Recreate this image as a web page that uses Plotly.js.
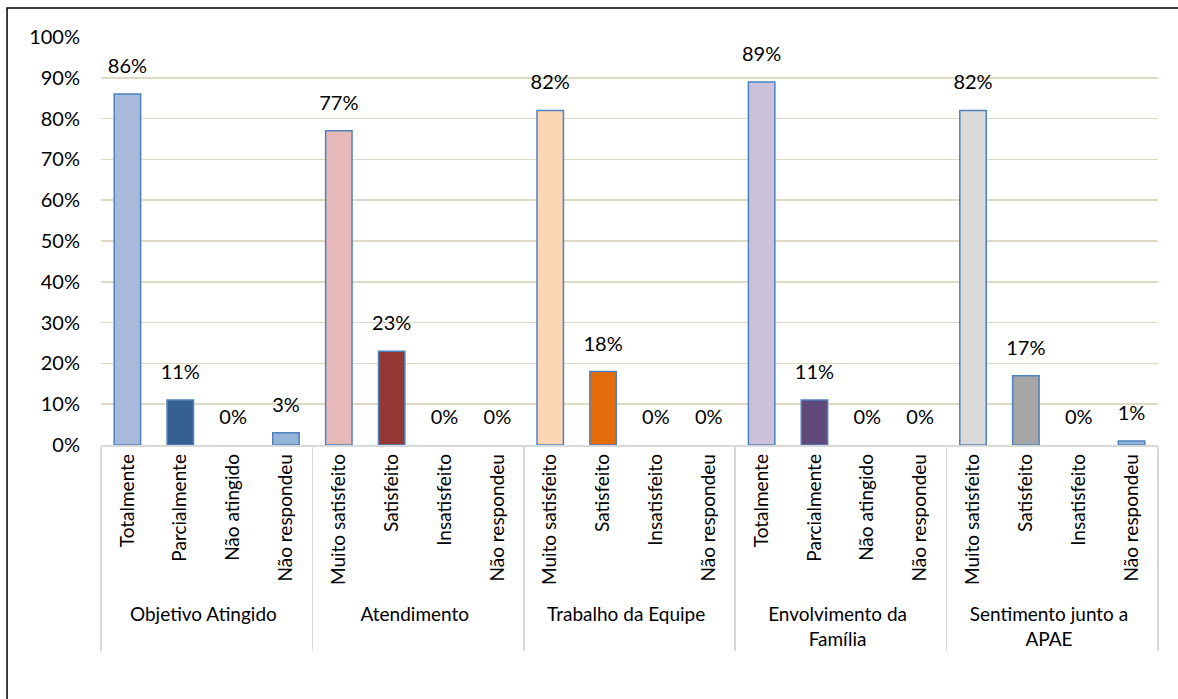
<!DOCTYPE html>
<html>
<head>
<meta charset="utf-8">
<script src="https://cdn.plot.ly/plotly-3.0.1.min.js"></script>
<style>html,body{margin:0;padding:0;background:#fff;}#chart{width:1178px;height:699px;}</style>
</head>
<body>
<div id="chart"></div>
<script>
const groups = [
  "Objetivo Atingido","Objetivo Atingido","Objetivo Atingido","Objetivo Atingido",
  "Atendimento","Atendimento","Atendimento","Atendimento",
  "Trabalho da Equipe","Trabalho da Equipe","Trabalho da Equipe","Trabalho da Equipe",
  "Envolvimento da<br>Família","Envolvimento da<br>Família","Envolvimento da<br>Família","Envolvimento da<br>Família",
  "Sentimento junto a<br>APAE","Sentimento junto a<br>APAE","Sentimento junto a<br>APAE","Sentimento junto a<br>APAE"
];
const answers = [
  "Totalmente","Parcialmente","Não atingido","Não respondeu",
  "Muito satisfeito","Satisfeito","Insatisfeito","Não respondeu",
  "Muito satisfeito","Satisfeito","Insatisfeito","Não respondeu",
  "Totalmente","Parcialmente","Não atingido","Não respondeu",
  "Muito satisfeito","Satisfeito","Insatisfeito","Não respondeu"
];
const values = [86,11,0,3, 77,23,0,0, 82,18,0,0, 89,11,0,0, 82,17,0,1];
const barColors = [
  "#A7BADB","#365F91","#95B3D7","#95B3D7",
  "#E6B9B8","#953735","#E6B9B8","#E6B9B8",
  "#FCD5B5","#E46C0A","#FCD5B5","#FCD5B5",
  "#CCC1DA","#604A7B","#CCC1DA","#CCC1DA",
  "#D9D9D9","#A6A6A6","#D9D9D9","#95B3D7"
];
const yTicks = [0,10,20,30,40,50,60,70,80,90,100];

const FONT = "Lato, 'Open Sans', sans-serif";

// Plotly orders multicategory sub-labels by first appearance; list the
// shared "Não respondeu" entries last so every group keeps its own order.
const idx = answers.map((_, i) => i);
const order = idx.filter(i => answers[i] !== "Não respondeu")
  .concat(idx.filter(i => answers[i] === "Não respondeu"));
const pick = arr => order.map(i => arr[i]);

const xs = [pick(groups), pick(answers)];
const ys = pick(values);

const bars = {
  type: "bar",
  x: xs,
  y: ys,
  width: 0.5,
  marker: {
    color: pick(barColors),
    line: {color: "#4F81BD", width: ys.map(v => v > 0 ? 1.5 : 0)}
  },
  hoverinfo: "skip"
};

const labels = {
  type: "scatter",
  mode: "markers+text",
  x: xs,
  y: ys,
  text: ys.map(v => v + "%"),
  textposition: "top center",
  textfont: {family: FONT, size: 20, color: "#000"},
  marker: {size: 24, color: "rgba(0,0,0,0)", line: {width: 0}},
  cliponaxis: false,
  hoverinfo: "skip"
};

const layout = {
  width: 1178, height: 699,
  margin: {l: 101, r: 20, t: 37, b: 254},
  paper_bgcolor: "#fff", plot_bgcolor: "#fff",
  showlegend: false,
  font: {family: FONT, size: 20, color: "#000"},
  xaxis: {
    type: "multicategory",
    range: [-0.5, answers.length - 0.5],
    autorange: false,
    tickangle: -90,
    tickfont: {family: FONT, size: 19, color: "#000"},
    showline: true, linecolor: "#D9D9D9", linewidth: 1.5,
    showdividers: true, dividercolor: "#D9D9D9", dividerwidth: 1.5,
    ticks: "", showgrid: false, zeroline: false
  },
  yaxis: {
    range: [0, 100],
    tickvals: yTicks,
    ticktext: yTicks.map(v => v + "%"),
    showgrid: true, gridcolor: "#DDD9C3", gridwidth: 1.5,
    zeroline: false, showline: false, ticks: "",
    ticklabelstandoff: 20,
    tickfont: {family: FONT, size: 20, color: "#000"}
  },
  shapes: [{
    type: "rect", xref: "paper", yref: "paper",
    x0: -0.0889, x1: 1.06, y0: -0.7, y1: 1.071,
    line: {color: "#000", width: 1.5}, fillcolor: "rgba(0,0,0,0)", layer: "below"
  }]
};

Plotly.newPlot("chart", [bars, labels], layout, {displayModeBar: false, staticPlot: true});
</script>
</body>
</html>
